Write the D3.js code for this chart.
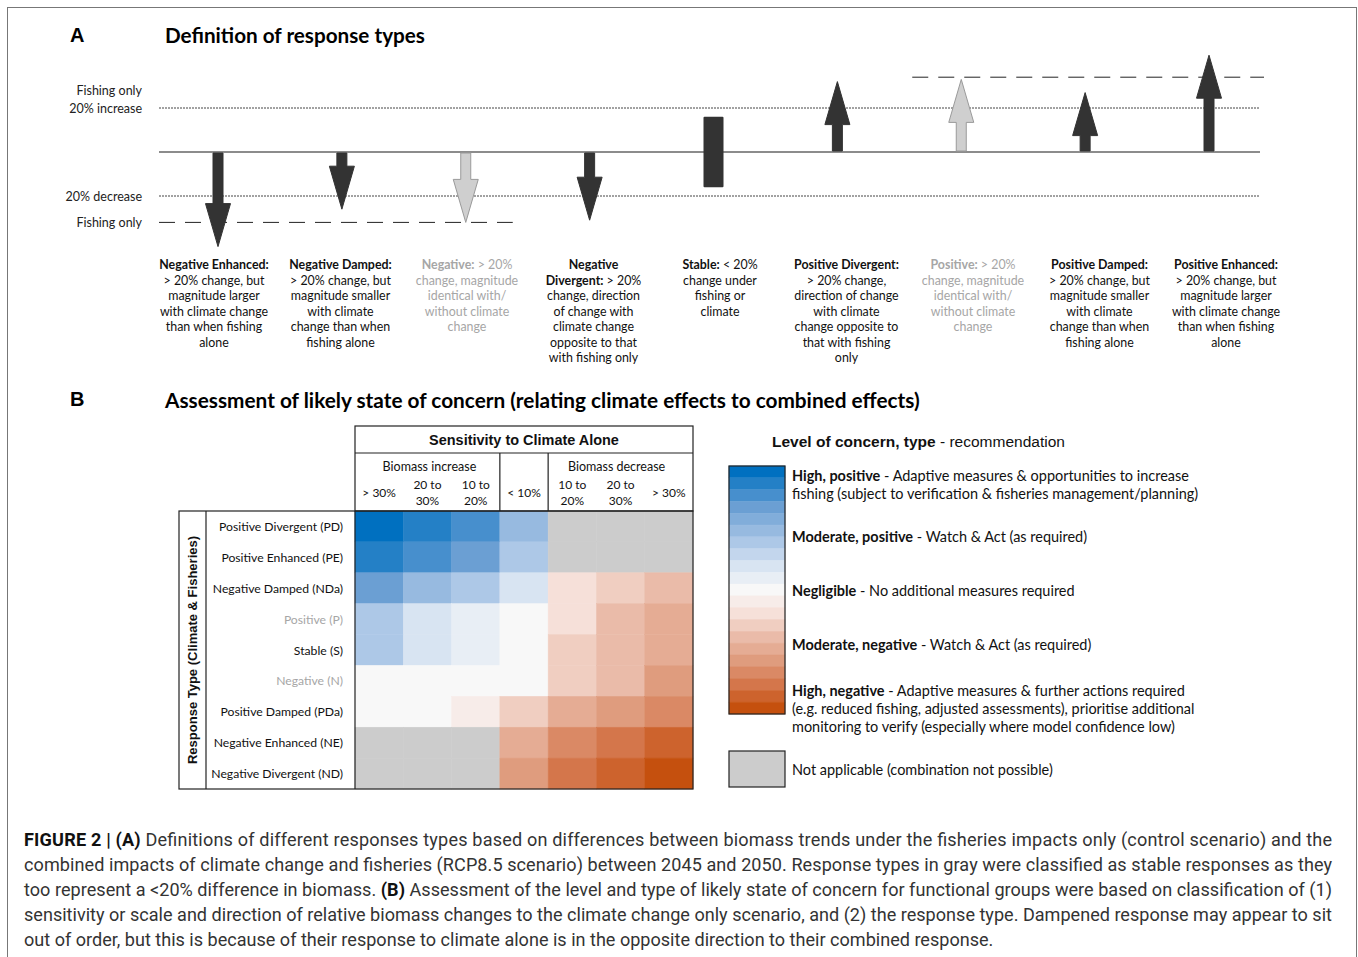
<!DOCTYPE html>
<html>
<head>
<meta charset="utf-8">
<script src="https://cdn.jsdelivr.net/npm/d3@7"></script>
<style>
  body { margin: 0; background: #fff; }
  svg text { font-family: Lato, "Open Sans", sans-serif; }
  svg text.arial { font-family: "Liberation Sans", Arial, sans-serif; }
  svg text.caption { font-family: Roboto, "Liberation Sans", sans-serif; }
</style>
</head>
<body>
<svg id="fig" width="1358" height="957"></svg>
<script>
// ---- Panel A data: response types in drawing order ----
const responseTypes = ['NE', 'NDa', 'N', 'ND', 'S', 'PD', 'P', 'PDa', 'PE'];
// % biomass change under climate + fishing (arrow tip); S is drawn as a bar
const combinedChange = [-43, -26, -32, -31, null, 32, 33, 27, 44];
const stableRange = [-16, 16];
const fishingOnly = [-32, 34];
const thresholds = [-20, 20];
const greyTypes = ['N', 'P'];
const typeLabels = [
  ['**Negative Enhanced:**', '> 20% change, but', 'magnitude larger', 'with climate change', 'than when fishing', 'alone'],
  ['**Negative Damped:**', '> 20% change, but', 'magnitude smaller', 'with climate', 'change than when', 'fishing alone'],
  ['**Negative:** > 20%', 'change, magnitude', 'identical with/', 'without climate', 'change'],
  ['**Negative**', '**Divergent:** > 20%', 'change, direction', 'of change with', 'climate change', 'opposite to that', 'with fishing only'],
  ['**Stable:** < 20%', 'change under', 'fishing or', 'climate'],
  ['**Positive Divergent:**', '> 20% change,', 'direction of change', 'with climate', 'change opposite to', 'that with fishing', 'only'],
  ['**Positive:** > 20%', 'change, magnitude', 'identical with/', 'without climate', 'change'],
  ['**Positive Damped:**', '> 20% change, but', 'magnitude smaller', 'with climate', 'change than when', 'fishing alone'],
  ['**Positive Enhanced:**', '> 20% change, but', 'magnitude larger', 'with climate change', 'than when fishing', 'alone']
];

// ---- Panel B data ----
const sensColumns = ['> 30%', '20 to|30%', '10 to|20%', '< 10%', '10 to|20%', '20 to|30%', '> 30%'];
const sensGroups = [{ label: 'Biomass increase', cols: [0, 2] }, { label: 'Biomass decrease', cols: [4, 6] }];
const rowTypes = ['Positive Divergent (PD)', 'Positive Enhanced (PE)', 'Negative Damped (NDa)', 'Positive (P)',
  'Stable (S)', 'Negative (N)', 'Positive Damped (PDa)', 'Negative Enhanced (NE)', 'Negative Divergent (ND)'];
const greyRows = ['Positive (P)', 'Negative (N)'];
// level of concern: -10 high positive ... 0 negligible ... 10 high negative, null = not applicable
const concern = [
  [-10, -9, -8, -5, null, null, null],
  [-9, -8, -7, -4, null, null, null],
  [-7, -5, -4, -2, 2, 3, 4],
  [-4, -2, -1, 0, 2, 4, 5],
  [-4, -2, -1, 0, 3, 4, 5],
  [0, 0, 0, 0, 3, 4, 6],
  [0, 0, 1, 3, 5, 6, 7],
  [null, null, null, 5, 7, 8, 9],
  [null, null, null, 6, 8, 9, 10]
];
const concernLevels = d3.range(-10, 11);
const legendNotes = [
  { level: -10, lines: ['**High, positive** - Adaptive measures & opportunities to increase', 'fishing (subject to verification & fisheries management/planning)'] },
  { level: -5, lines: ['**Moderate, positive** - Watch & Act (as required)'] },
  { level: 0, lines: ['**Negligible** - No additional measures required'] },
  { level: 5, lines: ['**Moderate, negative** - Watch & Act (as required)'] },
  { level: 10, lines: ['**High, negative** - Adaptive measures & further actions required', '(e.g. reduced fishing, adjusted assessments), prioritise additional', 'monitoring to verify (especially where model confidence low)'] }
];
const captionLines = [
  '**FIGURE 2 | (A)** Definitions of different responses types based on differences between biomass trends under the fisheries impacts only (control scenario) and the',
  'combined impacts of climate change and fisheries (RCP8.5 scenario) between 2045 and 2050. Response types in gray were classified as stable responses as they',
  'too represent a <20% difference in biomass. **(B)** Assessment of the level and type of likely state of concern for functional groups were based on classification of (1)',
  'sensitivity or scale and direction of relative biomass changes to the climate change only scenario, and (2) the response type. Dampened response may appear to sit',
  'out of order, but this is because of their response to climate alone is in the opposite direction to their combined response.'
];

const svg = d3.select('#fig');
const ink = '#333';
const greyText = '#a6a6a6';

// bold segments are wrapped in **
function rich(sel, str) {
  str.split('**').forEach((part, i) => {
    if (part) sel.append('tspan').attr('font-weight', i % 2 ? 700 : 400).text(part);
  });
  return sel;
}

// font size that makes the node as wide as target
function fitSize(node, size, target) {
  return size * target / node.getComputedTextLength();
}

// outer frame
svg.append('rect')
  .attr('x', 7.5).attr('y', 7.5)
  .attr('width', 1349).attr('height', 990)
  .attr('fill', 'none').attr('stroke', '#777').attr('stroke-width', 1);

// ===== Panel A =====
svg.append('text').attr('class', 'arial').attr('x', 70).attr('y', 35).attr('dominant-baseline', 'central')
  .attr('font-size', 20).attr('font-weight', 700).text('A');
const titleA = svg.append('text').attr('x', 165).attr('y', 35).attr('dominant-baseline', 'central')
  .attr('font-size', 20).attr('font-weight', 700).text('Definition of response types');
titleA.attr('font-size', fitSize(titleA.node(), 20, 260));

const yA = d3.scaleLinear().domain([-50, 50]).range([262, 42]);
const xA = d3.scalePoint().domain(responseTypes).range([218, 1209]);
const xLab = d3.scalePoint().domain(responseTypes).range([214, 1226]);
const lineExtent = [159, 1260];

svg.selectAll('.threshold')
  .data(thresholds)
  .enter()
  .append('line')
  .attr('x1', lineExtent[0]).attr('x2', lineExtent[1])
  .attr('y1', d => yA(d)).attr('y2', d => yA(d))
  .attr('stroke', '#444').attr('stroke-width', 1).attr('stroke-dasharray', '2,1');

svg.append('line')
  .attr('x1', lineExtent[0]).attr('x2', lineExtent[1])
  .attr('y1', yA(0)).attr('y2', yA(0))
  .attr('stroke', '#666').attr('stroke-width', 1.5);

// fishing-only reference levels
svg.append('line')
  .attr('x1', lineExtent[0]).attr('x2', xA('N') + 47)
  .attr('y1', yA(fishingOnly[0])).attr('y2', yA(fishingOnly[0]))
  .attr('stroke', '#222').attr('stroke-width', 1).attr('stroke-dasharray', '16,10');
svg.append('line')
  .attr('x1', xA('P') - 49).attr('x2', lineExtent[1] + 4)
  .attr('y1', yA(fishingOnly[1])).attr('y2', yA(fishingOnly[1]))
  .attr('stroke', '#222').attr('stroke-width', 1).attr('stroke-dasharray', '16,10');

// left labels
const leftLabels = [
  { text: 'Fishing only', y: yA(thresholds[1]) - 18 },
  { text: '20% increase', y: yA(thresholds[1]) },
  { text: '20% decrease', y: yA(thresholds[0]) },
  { text: 'Fishing only', y: yA(fishingOnly[0]) }
];
svg.selectAll('.left-label')
  .data(leftLabels)
  .enter()
  .append('text')
  .attr('x', 142).attr('y', d => d.y)
  .attr('text-anchor', 'end').attr('dominant-baseline', 'central')
  .attr('font-size', 12.5).attr('fill', '#222')
  .text(d => d.text);

// arrows
const headLen = 43, headHalf = 12.5, shaftHalf = 5;
function arrowPoints(x, v) {
  const y0 = yA(0), yt = yA(v), s = Math.sign(yt - y0);
  const hb = yt - s * headLen, ys = y0 + s;
  return [[x - shaftHalf, ys], [x - shaftHalf, hb], [x - headHalf, hb], [x, yt],
    [x + headHalf, hb], [x + shaftHalf, hb], [x + shaftHalf, ys]];
}
const arrows = responseTypes.map((t, i) => ({ type: t, value: combinedChange[i] }))
  .filter(d => d.value !== null);
svg.selectAll('.arrow')
  .data(arrows)
  .enter()
  .append('polygon')
  .attr('points', d => arrowPoints(xA(d.type), d.value).join(' '))
  .attr('fill', d => greyTypes.includes(d.type) ? '#cfcfcf' : ink)
  .attr('stroke', d => greyTypes.includes(d.type) ? '#9a9a9a' : ink)
  .attr('stroke-width', 1)
  .attr('stroke-linejoin', 'round');

svg.append('rect')
  .attr('x', xA('S') - 10).attr('width', 20)
  .attr('y', yA(stableRange[1])).attr('height', yA(stableRange[0]) - yA(stableRange[1]))
  .attr('rx', 1)
  .attr('fill', ink);

// type descriptions
const labelSize = 12.4;
const labelGroups = svg.selectAll('.type-label')
  .data(responseTypes)
  .enter()
  .append('text')
  .attr('text-anchor', 'middle')
  .attr('font-size', labelSize)
  .attr('fill', d => greyTypes.includes(d) ? greyText : '#111');
labelGroups.each(function(t, i) {
  const g = d3.select(this);
  typeLabels[i].forEach((line, j) => {
    const row = g.append('tspan').attr('x', xLab(t)).attr('y', 269 + j * 15.5);
    line.split('**').forEach((part, k) => {
      if (part) row.append('tspan').attr('font-weight', k % 2 ? 700 : 400).text(part);
    });
  });
});

// ===== Panel B =====
svg.append('text').attr('class', 'arial').attr('x', 70).attr('y', 399).attr('dominant-baseline', 'central')
  .attr('font-size', 20).attr('font-weight', 700).text('B');
const titleB = svg.append('text').attr('x', 165).attr('y', 399).attr('dominant-baseline', 'central')
  .attr('font-size', 20).attr('font-weight', 700)
  .text('Assessment of likely state of concern (relating climate effects to combined effects)');
titleB.attr('font-size', fitSize(titleB.node(), 20, 755));

const color = d3.scaleLinear()
  .domain([-10, -7, -4, -2, 0, 2, 4, 6, 8, 10])
  .range(['#0070c0', '#6b9fd3', '#adc8e7', '#d8e4f2', '#f8f8f8', '#f6e0d9', '#eabba9', '#df9c7e', '#d4764b', '#c5500e']);
const naColor = '#cccccc';

const xB = d3.scaleBand().domain(d3.range(sensColumns.length)).range([355, 693]);
const yB = d3.scaleBand().domain(rowTypes).range([511, 789]);
const headTop = 426, headMid = 453;

const cells = [];
rowTypes.forEach((r, i) => concern[i].forEach((v, j) => cells.push({ row: r, col: j, value: v })));
svg.selectAll('.cell')
  .data(cells)
  .enter()
  .append('rect')
  .attr('x', d => xB(d.col)).attr('y', d => yB(d.row))
  .attr('width', xB.bandwidth()).attr('height', yB.bandwidth())
  .attr('fill', d => d.value === null ? naColor : color(d.value))
  .attr('stroke', d => d.value === null ? naColor : color(d.value))
  .attr('stroke-width', 0.5);

const tableLines = svg.append('g').attr('stroke', '#222').attr('stroke-width', 1.2).attr('fill', 'none');
tableLines.append('rect').attr('x', 355).attr('y', headTop).attr('width', 338).attr('height', yB.range()[0] - headTop);
tableLines.append('line').attr('x1', 355).attr('x2', 693).attr('y1', headMid).attr('y2', headMid);
[3, 4].forEach(c => tableLines.append('line')
  .attr('x1', xB(c)).attr('x2', xB(c)).attr('y1', headMid).attr('y2', yB.range()[0]));
tableLines.append('rect').attr('x', 179).attr('y', 511).attr('width', 514).attr('height', 278);
tableLines.append('line').attr('x1', 355).attr('x2', 355).attr('y1', 511).attr('y2', 789);
tableLines.append('line').attr('x1', 206).attr('x2', 206).attr('y1', 511).attr('y2', 789);

svg.append('text').attr('class', 'arial')
  .attr('x', 524).attr('y', 439.5)
  .attr('text-anchor', 'middle').attr('dominant-baseline', 'central')
  .attr('font-size', 13.2).attr('font-weight', 700).attr('fill', '#111')
  .text('Sensitivity to Climate Alone');

svg.selectAll('.group-label')
  .data(sensGroups)
  .enter()
  .append('text')
  .attr('x', d => (xB(d.cols[0]) + xB(d.cols[1]) + xB.bandwidth()) / 2 + (d.cols[0] ? -4 : 2))
  .attr('y', 466)
  .attr('text-anchor', 'middle').attr('dominant-baseline', 'central')
  .attr('font-size', 12.5).attr('fill', '#111')
  .text(d => d.label);

svg.selectAll('.col-label')
  .data(sensColumns)
  .enter()
  .append('text')
  .attr('text-anchor', 'middle').attr('dominant-baseline', 'central')
  .attr('font-size', 12).attr('fill', '#111')
  .each(function(d, i) {
    const parts = d.split('|');
    parts.forEach((p, k) => d3.select(this).append('tspan')
      .attr('x', xB(i) + xB.bandwidth() / 2)
      .attr('y', 492 + (k - (parts.length - 1) / 2) * 16)
      .text(p));
  });

svg.selectAll('.row-label')
  .data(rowTypes)
  .enter()
  .append('text')
  .attr('x', 343).attr('y', d => yB(d) + yB.bandwidth() / 2)
  .attr('text-anchor', 'end').attr('dominant-baseline', 'central')
  .attr('font-size', 12.2)
  .attr('fill', d => greyRows.includes(d) ? greyText : '#111')
  .text(d => d);

svg.append('text').attr('class', 'arial')
  .attr('transform', `translate(192,${(511 + 789) / 2}) rotate(-90)`)
  .attr('text-anchor', 'middle').attr('dominant-baseline', 'central')
  .attr('font-size', 13).attr('font-weight', 700).attr('fill', '#111')
  .text('Response Type (Climate & Fisheries)');

// legend
rich(svg.append('text').attr('class', 'arial').attr('x', 772).attr('y', 441).attr('dominant-baseline', 'central')
  .attr('font-size', 15.5).attr('fill', '#111'),
  '**Level of concern, type** - recommendation');

const legY = d3.scaleBand().domain(concernLevels).range([466, 714]);
const legX = 729, legW = 56;
svg.selectAll('.leg-band')
  .data(concernLevels)
  .enter()
  .append('rect')
  .attr('x', legX).attr('width', legW)
  .attr('y', d => legY(d)).attr('height', legY.bandwidth())
  .attr('fill', d => color(d)).attr('stroke', d => color(d)).attr('stroke-width', 0.5);
svg.append('rect')
  .attr('x', legX).attr('y', 466).attr('width', legW).attr('height', 248)
  .attr('fill', 'none').attr('stroke', '#222').attr('stroke-width', 1.2);

const noteLead = 18.2;
const noteNodes = [];
legendNotes.forEach(n => {
  const c = legY(n.level) + legY.bandwidth() / 2;
  // pull single-line notes slightly toward the neutral middle
  const shift = n.lines.length === 1 ? -n.level : 0;
  const first = Math.max(c + shift - (n.lines.length - 1) * noteLead / 2, 466 + 9);
  const t = svg.append('text').attr('dominant-baseline', 'central')
    .attr('font-size', 13.2).attr('fill', '#111');
  n.lines.forEach((line, j) => {
    noteNodes.push(rich(t.append('tspan').attr('x', 792).attr('y', first + j * noteLead), line));
  });
});
svg.append('text').attr('x', 792).attr('y', 769).attr('dominant-baseline', 'central')
  .attr('font-size', 13.2).attr('fill', '#111')
  .text('Not applicable (combination not possible)');
// widest note line spans to x=1198 in the figure
const noteSize = fitSize(noteNodes[1].node(), 13.2, 406);
svg.selectAll('text').filter(function() { return +d3.select(this).attr('font-size') === 13.2; })
  .attr('font-size', noteSize);

svg.append('rect')
  .attr('x', legX).attr('y', 751).attr('width', legW).attr('height', 36)
  .attr('fill', naColor).attr('stroke', '#222').attr('stroke-width', 1.2);

// ===== caption =====
const capLeft = 24, capRight = 1332;
const cap = svg.append('g').attr('fill', '#333');
const capNodes = captionLines.map((line, i) => {
  const t = cap.append('text').attr('class', 'caption').attr('x', capLeft).attr('y', 839 + i * 25)
    .attr('dominant-baseline', 'central').attr('font-size', 17);
  rich(t, line);
  t.selectAll('tspan').filter(function() { return d3.select(this).attr('font-weight') == 700; })
    .attr('fill', '#111');
  return t;
});
// size so the widest full line fits, then set the full lines flush to the right margin
const capSize = d3.min(capNodes.slice(0, 4), t => fitSize(t.node(), 17, capRight - capLeft));
capNodes.forEach(t => t.attr('font-size', capSize));
capNodes.slice(0, 4).forEach(t => t.attr('textLength', capRight - capLeft).attr('lengthAdjust', 'spacing'));
</script>
</body>
</html>
